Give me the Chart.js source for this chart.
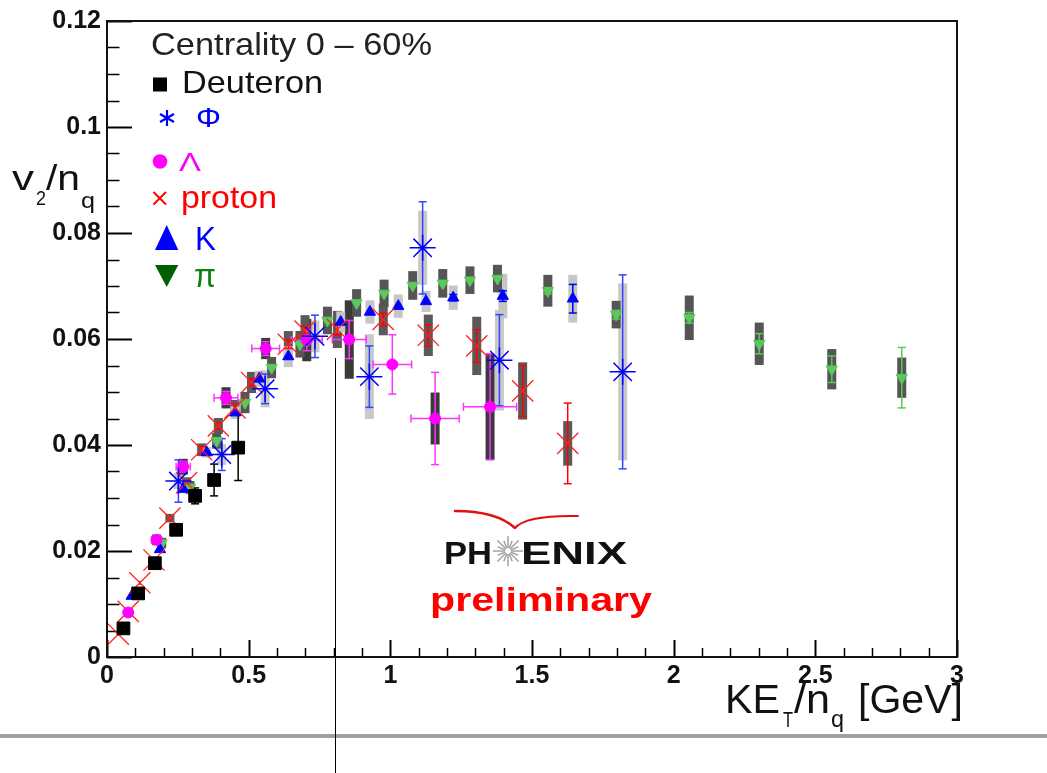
<!DOCTYPE html>
<html><head><meta charset="utf-8">
<script src="https://cdn.jsdelivr.net/npm/chart.js@4"></script>
<style>html,body{margin:0;padding:0;background:#fff;}canvas{display:block}</style>
</head><body>
<canvas id="c" width="1047" height="773"></canvas>
<script>
// ---------------- data ----------------
const xTickLabels = ['0', '0.5', '1', '1.5', '2', '2.5', '3'];
const yTickLabels = ['0', '0.02', '0.04', '0.06', '0.08', '0.1', '0.12'];

const deuteronX   = [0.058, 0.110, 0.169, 0.244, 0.311, 0.378, 0.463];
const deuteronY   = [0.0054, 0.0120, 0.0177, 0.0240, 0.0304, 0.0334, 0.0395];
const deuteronErr = [0.0004, 0.0005, 0.0006, 0.0007, 0.0015, 0.0030, 0.0062];

const phiX   = [0.252, 0.405, 0.558, 0.734, 0.926, 1.114, 1.385, 1.820];
const phiY   = [0.0332, 0.0382, 0.0506, 0.0605, 0.0529, 0.0772, 0.0560, 0.0538];
const phiErr = [0.0040, 0.0030, 0.0028, 0.0040, 0.0058, 0.0087, 0.0086, 0.0183];
const phiSys = [0.0015, 0.0020, 0.0035, 0.0030, 0.0080, 0.0070, 0.0095, 0.0167];

const lambdaX    = [0.075, 0.175, 0.269, 0.420, 0.560, 0.705, 0.855, 1.007, 1.158, 1.352];
const lambdaY    = [0.0084, 0.0221, 0.0359, 0.0489, 0.0582, 0.0598, 0.0599, 0.0552, 0.0450, 0.0472];
const lambdaErr  = [0.0006, 0.0008, 0.0010, 0.0012, 0.0013, 0.0020, 0.0036, 0.0056, 0.0087, 0.0100];
const lambdaXErr = [0.012, 0.018, 0.025, 0.042, 0.049, 0.055, 0.060, 0.068, 0.085, 0.094];
const lambdaSys  = [0.0008, 0.0010, 0.0015, 0.0020, 0.0020, 0.0040, 0.0074, 0, 0.0049, 0.0100];

const protonX   = [0.040, 0.075, 0.116, 0.166, 0.222, 0.281, 0.334, 0.393, 0.452, 0.510, 0.640, 0.699, 0.813, 0.975, 1.134, 1.305, 1.467, 1.626];
const protonY   = [0.0043, 0.0086, 0.0140, 0.0183, 0.0262, 0.0329, 0.0391, 0.0436, 0.0470, 0.0518, 0.0590, 0.0615, 0.0618, 0.0637, 0.0607, 0.0587, 0.0502, 0.0403];
const protonErr = [0.0003, 0.0003, 0.0004, 0.0004, 0.0005, 0.0005, 0.0006, 0.0006, 0.0007, 0.0007, 0.0008, 0.0009, 0.0010, 0.0012, 0.0020, 0.0031, 0.0048, 0.0076];
const protonSys = [0, 0, 0, 0, 0.0008, 0.0010, 0.0012, 0.0015, 0.0015, 0.0020, 0.0025, 0.0030, 0.0035, 0.0030, 0.0039, 0.0055, 0.0054, 0.0042];

const kaonX   = [0.087, 0.187, 0.269, 0.352, 0.452, 0.537, 0.640, 0.825, 0.928, 1.028, 1.126, 1.222, 1.397, 1.644];
const kaonY   = [0.0115, 0.0203, 0.0317, 0.0386, 0.0461, 0.0525, 0.0567, 0.0632, 0.0651, 0.0662, 0.0671, 0.0678, 0.0681, 0.0676];
const kaonErr = [0.0002, 0.0002, 0.0003, 0.0003, 0.0003, 0.0004, 0.0004, 0.0004, 0.0005, 0.0005, 0.0005, 0.0006, 0.0010, 0.0027];
const kaonSys = [0, 0, 0.0008, 0.0010, 0.0012, 0.0015, 0.0020, 0.0020, 0.0022, 0.0022, 0.0020, 0.0023, 0.0042, 0.0045];

const pionX   = [0.193, 0.293, 0.387, 0.487, 0.581, 0.681, 0.778, 0.881, 0.978, 1.079, 1.185, 1.281, 1.378, 1.556, 1.797, 2.055, 2.302, 2.558, 2.805];
const pionY   = [0.0215, 0.0320, 0.0408, 0.0480, 0.0546, 0.0590, 0.0635, 0.0668, 0.0686, 0.0701, 0.0705, 0.0711, 0.0714, 0.0691, 0.0646, 0.0640, 0.0591, 0.0543, 0.0527];
const pionErr = [0.0002, 0.0002, 0.0003, 0.0003, 0.0003, 0.0003, 0.0004, 0.0004, 0.0004, 0.0004, 0.0005, 0.0005, 0.0005, 0.0006, 0.0008, 0.0010, 0.0019, 0.0025, 0.0057];
const pionSys = [0.0010, 0.0012, 0.0015, 0.0020, 0.0020, 0.0025, 0.0026, 0.0026, 0.0026, 0.0027, 0.0027, 0.0026, 0.0026, 0.0030, 0.0026, 0.0042, 0.0040, 0.0038, 0.0038];

// ---------------- styling ----------------
const FAM = "'Liberation Sans', Arial, Helvetica, sans-serif";
const series = [
  {x: deuteronX, y: deuteronY, err: deuteronErr, xerr: null, sys: null,
   style: 'rect', r: 9, rot: 0, fill: '#000', line: '#000', lw: 1, errColor: '#000', sysColor: '#999'},
  {x: phiX, y: phiY, err: phiErr, xerr: null, sys: phiSys,
   style: 'star', r: 13, rot: 0, fill: 'rgba(0,0,0,0)', line: '#0000ff', lw: 1.5, errColor: '#3344ff', sysColor: '#c9c9c9'},
  {x: lambdaX, y: lambdaY, err: lambdaErr, xerr: lambdaXErr, sys: lambdaSys,
   style: 'circle', r: 5.5, rot: 0, fill: '#ff00ff', line: '#ff00ff', lw: 1, errColor: '#ff33ff', sysColor: '#3a3a3a'},
  {x: protonX, y: protonY, err: protonErr, xerr: null, sys: protonSys,
   style: 'crossRot', r: 15, rot: 0, fill: '#ff0000', line: '#ff2020', lw: 1.3, errColor: '#ff0000', sysColor: '#5a5a5a'},
  {x: kaonX, y: kaonY, err: kaonErr, xerr: null, sys: kaonSys,
   style: 'triangle', r: 6.5, rot: 0, fill: '#0000ff', line: '#0000ff', lw: 1, errColor: '#0000ff', sysColor: '#c6c6c6'},
  {x: pionX, y: pionY, err: pionErr, xerr: null, sys: pionSys,
   style: 'triangle', r: 6.5, rot: 180, fill: '#5ac85a', line: '#5ac85a', lw: 1, errColor: '#5ac85a', sysColor: '#555555'}
];

const datasets = series.map(s => ({
  data: s.x.map((x, i) => ({x: x, y: s.y[i]})),
  showLine: false,
  pointStyle: s.style,
  pointRadius: s.r,
  pointRotation: s.rot,
  pointBackgroundColor: s.fill,
  pointBorderColor: s.line,
  pointBorderWidth: s.lw,
  pointHoverRadius: s.r
}));

function drawText(ctx, s, x, y, font, color, targetW) {
  ctx.save();
  ctx.font = font; ctx.fillStyle = color;
  ctx.textAlign = 'left'; ctx.textBaseline = 'alphabetic';
  const w = ctx.measureText(s).width;
  const sx = targetW ? targetW / w : 1;
  ctx.translate(x, y); ctx.scale(sx, 1);
  ctx.fillText(s, 0, 0);
  ctx.restore();
}
function seg(ctx, x1, y1, x2, y2) { ctx.beginPath(); ctx.moveTo(x1, y1); ctx.lineTo(x2, y2); ctx.stroke(); }

const rootPlugin = {
  id: 'rootStyle',
  beforeDatasetsDraw(chart) {
    const ctx = chart.ctx, xs = chart.scales.x, ys = chart.scales.y, a = chart.chartArea;
    ctx.save();
    // systematic boxes
    series.forEach(s => {
      if (!s.sys) return;
      ctx.fillStyle = s.sysColor;
      s.x.forEach((xv, i) => {
        const e = s.sys[i]; if (!e) return;
        const px = xs.getPixelForValue(xv);
        const top = ys.getPixelForValue(s.y[i] + e), bot = ys.getPixelForValue(s.y[i] - e);
        ctx.fillRect(px - 4.5, top, 9, bot - top);
      });
    });
    // statistical error bars
    series.forEach(s => {
      ctx.strokeStyle = s.errColor; ctx.lineWidth = 1.5;
      s.x.forEach((xv, i) => {
        const px = xs.getPixelForValue(xv), py = ys.getPixelForValue(s.y[i]);
        const e = s.err[i];
        if (e) {
          const t = ys.getPixelForValue(s.y[i] + e), b = ys.getPixelForValue(s.y[i] - e);
          seg(ctx, px, t, px, b);
          if (b - t > 6) { seg(ctx, px - 4, t, px + 4, t); seg(ctx, px - 4, b, px + 4, b); }
        }
        if (s.xerr && s.xerr[i]) {
          const l = xs.getPixelForValue(xv - s.xerr[i]), r = xs.getPixelForValue(xv + s.xerr[i]);
          seg(ctx, l, py, r, py);
          seg(ctx, l, py - 4, l, py + 4); seg(ctx, r, py - 4, r, py + 4);
        }
      });
    });
    // inside ticks (ROOT style)
    ctx.strokeStyle = '#000';
    for (let k = 0; k <= 30; k++) {
      const px = Math.round(xs.getPixelForValue(k / 10)) + 0.5;
      const major = k % 5 === 0;
      ctx.lineWidth = major ? 2 : 1.5;
      seg(ctx, px, a.bottom, px, a.bottom - (major ? 17 : 9));
    }
    for (let k = 0; k <= 24; k++) {
      const py = Math.round(ys.getPixelForValue(k * 0.005)) + 0.5;
      const major = k % 4 === 0;
      ctx.lineWidth = major ? 2 : 1.5;
      seg(ctx, a.left, py, a.left + (major ? 25 : 12.5), py);
    }
    ctx.restore();
  },
  afterDraw(chart) {
    const ctx = chart.ctx, a = chart.chartArea;
    ctx.save();
    // frame
    ctx.strokeStyle = '#111'; ctx.lineWidth = 2;
    ctx.strokeRect(a.left, a.top, a.right - a.left, a.bottom - a.top);

    // axis titles
    drawText(ctx, 'v', 12, 190, '35px ' + FAM, '#111', 22);
    drawText(ctx, '2', 36, 205, '20px ' + FAM, '#111', 10);
    drawText(ctx, '/n', 46, 190, '35px ' + FAM, '#111', 34);
    drawText(ctx, 'q', 81, 208, '22px ' + FAM, '#111', 14);

    drawText(ctx, 'KE', 725, 713, '40px ' + FAM, '#111', 55);
    drawText(ctx, 'T', 783, 727, '22px ' + FAM, '#111', 10);
    drawText(ctx, '/n', 794, 713, '40px ' + FAM, '#111', 36);
    drawText(ctx, 'q', 831, 727, '24px ' + FAM, '#111', 13);
    drawText(ctx, '[GeV]', 858, 713, '40px ' + FAM, '#111', 105);

    // legend block
    drawText(ctx, 'Centrality 0 \u2013 60%', 151, 55, '32px ' + FAM, '#222', 281);
    ctx.fillStyle = '#000'; ctx.fillRect(153, 77.5, 14, 14);
    drawText(ctx, 'Deuteron', 182, 93, '32px ' + FAM, '#111', 141);

    ctx.strokeStyle = '#0000ff'; ctx.lineWidth = 2.2;
    const cx = 167, cy = 118;
    seg(ctx, cx, cy - 8, cx, cy + 8);
    seg(ctx, cx - 7, cy - 4, cx + 7, cy + 4);
    seg(ctx, cx - 7, cy + 4, cx + 7, cy - 4);
    drawText(ctx, '\u03A6', 196, 127, '28px ' + FAM, '#0000ff', 25);

    ctx.fillStyle = '#ff00ff'; ctx.beginPath(); ctx.arc(160, 161.5, 7.3, 0, Math.PI * 2); ctx.fill();
    drawText(ctx, '\u039B', 179, 170.5, '26px ' + FAM, '#ff00ff', 22);

    ctx.strokeStyle = '#ff0000'; ctx.lineWidth = 2;
    seg(ctx, 153.5, 192, 166, 204.5); seg(ctx, 153.5, 204.5, 166, 192);
    drawText(ctx, 'proton', 181, 208, '32px ' + FAM, '#ff0000', 96);

    ctx.fillStyle = '#0000ff'; ctx.beginPath();
    ctx.moveTo(155, 250); ctx.lineTo(178.3, 250); ctx.lineTo(166.7, 225); ctx.closePath(); ctx.fill();
    drawText(ctx, 'K', 195, 250, '34px ' + FAM, '#0000ff', 21);

    ctx.fillStyle = '#005f00'; ctx.beginPath();
    ctx.moveTo(155, 265); ctx.lineTo(178.3, 265); ctx.lineTo(166.7, 287); ctx.closePath(); ctx.fill();
    drawText(ctx, '\u03C0', 194, 287, '34px ' + FAM, '#108010', 22);

    // PHENIX preliminary logo
    ctx.strokeStyle = '#e01010'; ctx.lineWidth = 2.5; ctx.lineCap = 'round';
    ctx.beginPath(); ctx.moveTo(455, 511); ctx.bezierCurveTo(482, 511, 502, 516, 515, 528); ctx.stroke();
    ctx.lineWidth = 2;
    ctx.beginPath(); ctx.moveTo(515, 528); ctx.quadraticCurveTo(526, 515, 578, 516); ctx.stroke();
    ctx.lineCap = 'butt';
    drawText(ctx, 'PH', 444, 564, 'bold 32px ' + FAM, '#111', 48);
    ctx.strokeStyle = '#9a9a9a'; ctx.lineWidth = 1.4;
    for (let k = 0; k < 16; k++) {
      const ang = k * Math.PI / 8, r1 = 3, r2 = (k % 2 ? 11 : 15);
      seg(ctx, 508 + r1 * Math.cos(ang), 551 + r1 * Math.sin(ang), 508 + r2 * Math.cos(ang), 551 + r2 * Math.sin(ang));
    }
    drawText(ctx, 'ENIX', 521, 564, 'bold 32px ' + FAM, '#111', 106);
    drawText(ctx, 'preliminary', 430, 611, 'bold 34px ' + FAM, '#ff0000', 222);

    // stray page decorations
    ctx.fillStyle = '#a0a0a0'; ctx.fillRect(0, 734, 1047, 4);
    ctx.strokeStyle = '#000'; ctx.lineWidth = 1;
    seg(ctx, 335.5, 358, 335.5, 773);
    ctx.restore();
  }
};

new Chart(document.getElementById('c'), {
  type: 'scatter',
  data: {datasets: datasets},
  options: {
    responsive: false,
    animation: false,
    devicePixelRatio: 1,
    layout: {padding: {top: 20, right: 90, left: 0, bottom: 0}},
    plugins: {legend: {display: false}, tooltip: {enabled: false}},
    scales: {
      x: {
        type: 'linear', min: 0, max: 3, position: 'bottom',
        afterFit(s) { s.height = 116; },
        afterBuildTicks(s) { s.ticks = xTickLabels.map(v => ({value: parseFloat(v)})); },
        ticks: {callback: (v, i) => xTickLabels[i], font: {family: FAM, size: 25, weight: 'bold'},
                color: '#111', padding: 4, maxRotation: 0, autoSkip: false},
        grid: {display: false, drawTicks: false}, border: {display: false}
      },
      y: {
        type: 'linear', min: 0, max: 0.12,
        afterFit(s) { s.width = 107; },
        afterBuildTicks(s) { s.ticks = yTickLabels.map(v => ({value: parseFloat(v)})); },
        ticks: {callback: (v, i) => yTickLabels[i], font: {family: FAM, size: 25, weight: 'bold'},
                color: '#111', padding: 6, autoSkip: false},
        grid: {display: false, drawTicks: false}, border: {display: false}
      }
    }
  },
  plugins: [rootPlugin]
});
</script>
</body></html>
